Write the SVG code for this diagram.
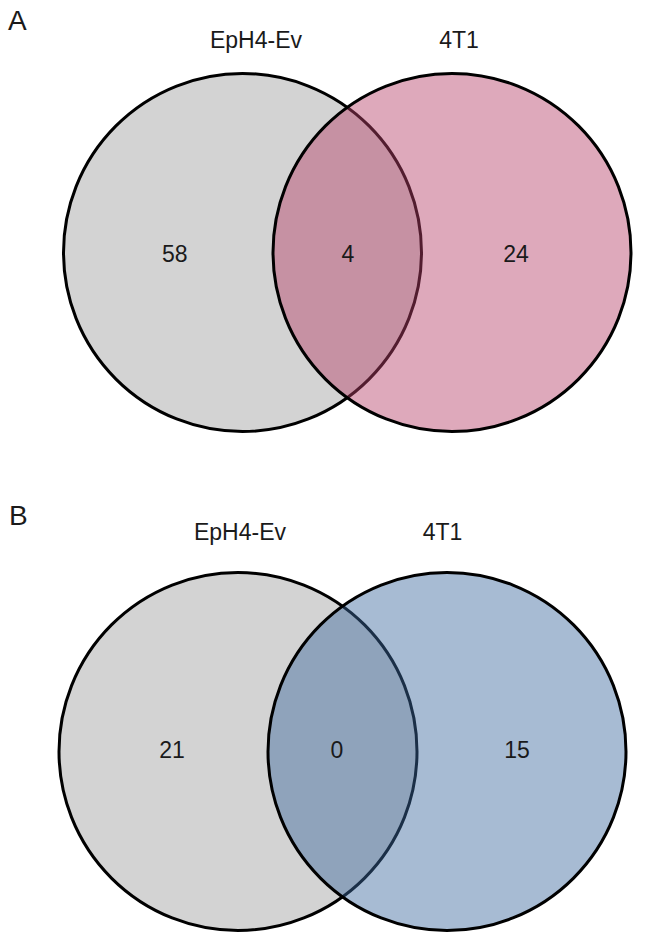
<svg xmlns="http://www.w3.org/2000/svg" width="646" height="945" viewBox="0 0 646 945">
  <style>
    text { font-family: "Liberation Sans", Arial, sans-serif; fill: #1a1a1a; }
    .lbl { font-size: 23px; text-anchor: middle; }
    .num { font-size: 23px; text-anchor: middle; }
    .panel { font-size: 28px; }
    .set { stroke: #000; stroke-width: 3; }
    .gray { fill: #d3d3d3; }
    .pink { fill: #b64068; fill-opacity: 0.45; }
    .blue { fill: #3b689d; fill-opacity: 0.45; }
  </style>
  <rect width="646" height="945" fill="#fff"/>
  <g id="panelA">
    <text class="panel" x="8" y="30">A</text>
    <g id="A-EpH4-Ev">
      <circle class="set gray" cx="242.5" cy="252.5" r="179"/>
      <text class="lbl" x="256" y="47.7">EpH4-Ev</text>
    </g>
    <g id="A-4T1">
      <circle class="set pink" cx="452" cy="252.5" r="179"/>
      <text class="lbl" x="459" y="47.7">4T1</text>
    </g>
    <text class="num" x="174.7" y="261.7">58</text>
    <text class="num" x="348" y="261.7">4</text>
    <text class="num" x="516" y="261.7">24</text>
  </g>
  <g id="panelB">
    <text class="panel" x="9" y="525">B</text>
    <g id="B-EpH4-Ev">
      <circle class="set gray" cx="238" cy="751.5" r="179"/>
      <text class="lbl" x="240" y="540">EpH4-Ev</text>
    </g>
    <g id="B-4T1">
      <circle class="set blue" cx="447" cy="751.5" r="179"/>
      <text class="lbl" x="442.5" y="540">4T1</text>
    </g>
    <text class="num" x="172" y="758.3">21</text>
    <text class="num" x="337" y="758.3">0</text>
    <text class="num" x="517" y="758.3">15</text>
  </g>
  <g id="connectors"/>
</svg>
